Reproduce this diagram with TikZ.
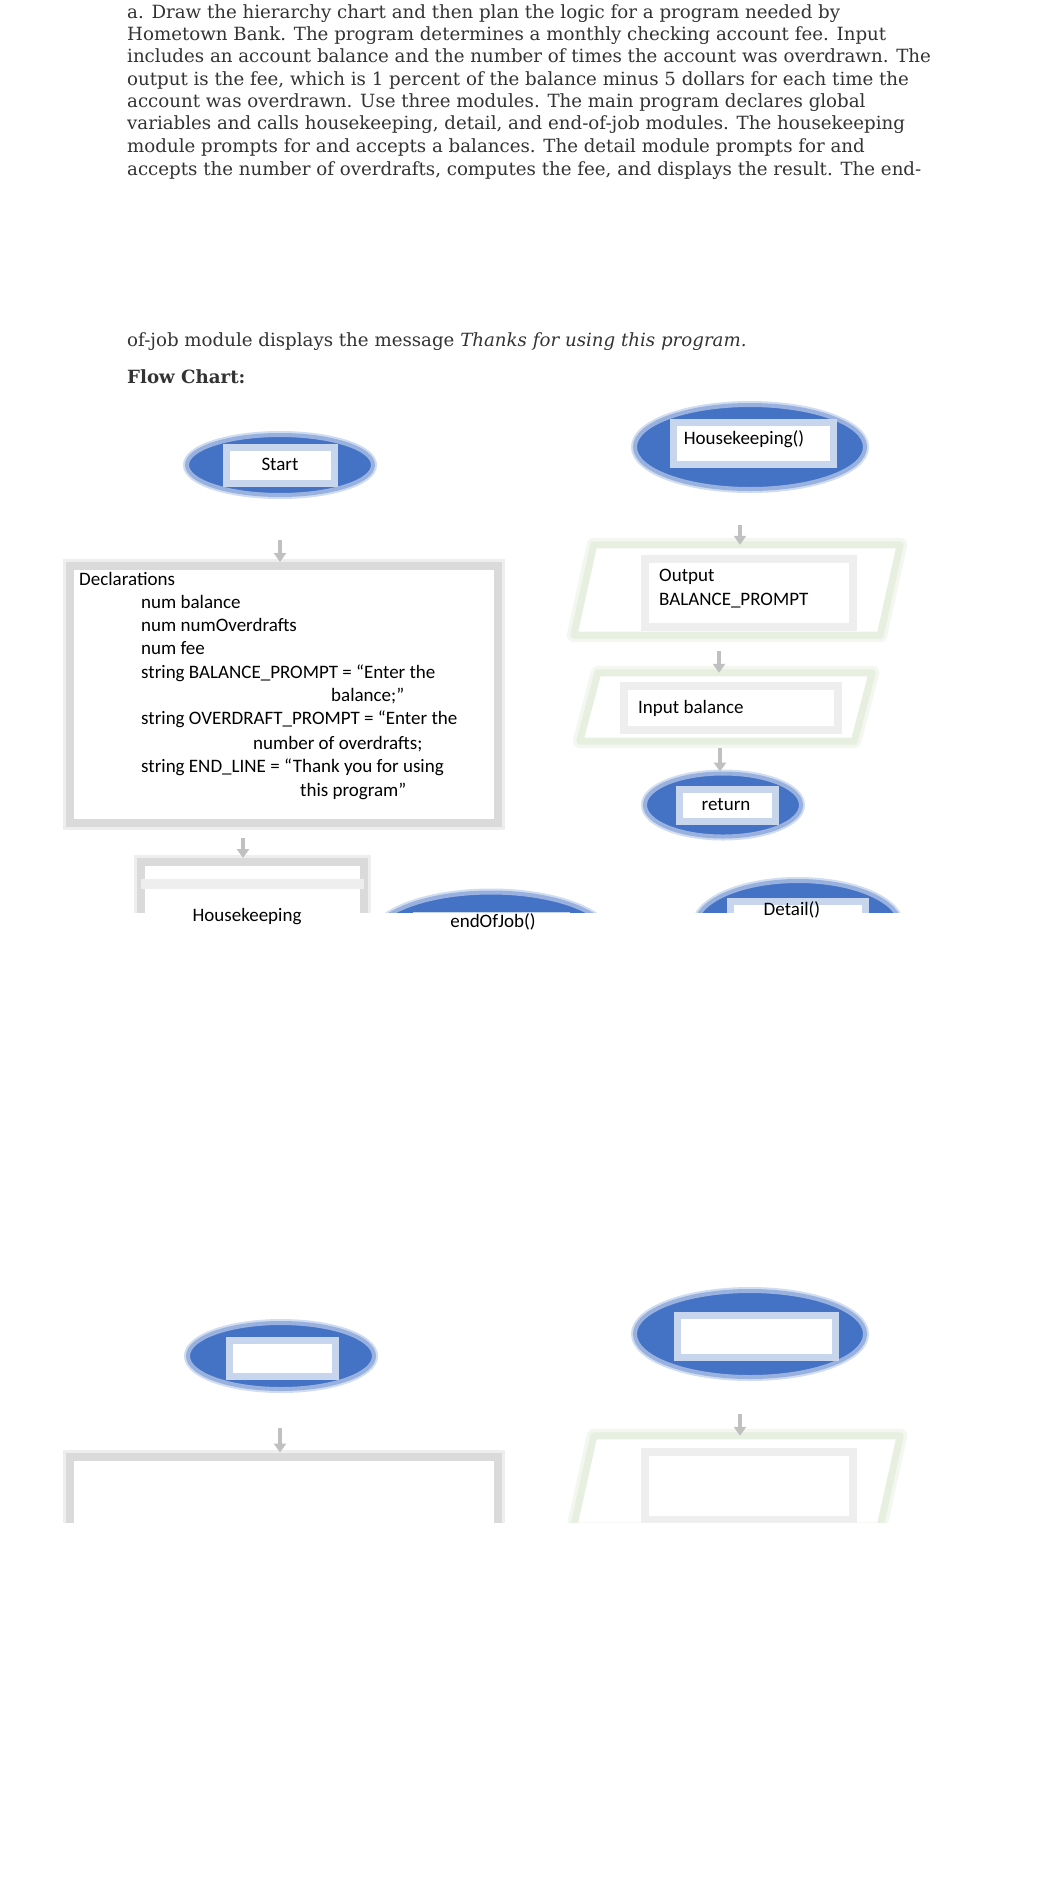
\documentclass[tikz,border=0pt]{standalone}
\usepackage{fontspec}
\setmainfont{DejaVu Serif}
\newfontfamily\chartfont{Carlito}
\usetikzlibrary{shapes.geometric,arrows.meta}
\definecolor{ofblue}{RGB}{68,114,196}
\definecolor{txtgray}{RGB}{51,51,51}
\definecolor{boxgray}{RGB}{218,218,218}
\definecolor{boxblur}{RGB}{238,238,238}
\definecolor{paragreen}{RGB}{230,239,224}
\definecolor{parablur}{RGB}{243,247,240}
\definecolor{innergray}{RGB}{238,238,238}
\definecolor{arrowgray}{RGB}{192,192,192}
\tikzset{
  para/.style={anchor=base west, inner sep=0pt, font=\fontsize{18.2}{22}\selectfont, text=txtgray},
  termblur/.style={ellipse, draw=ofblue!25, line width=8pt, inner sep=0pt},
  term/.style={ellipse, fill=ofblue, draw=ofblue!55, line width=4pt, inner sep=0pt},
  terminner/.style={rectangle, fill=white, draw=ofblue!30, line width=7pt, inner sep=0pt},
  procblur/.style={rectangle, draw=boxblur, line width=14pt, inner sep=0pt},
  procbox/.style={rectangle, draw=boxgray, line width=8pt, fill=white, inner sep=0pt},
  iobox/.style={rectangle, inner sep=0pt},
  ioblur/.style={draw=parablur, line width=14pt, line join=round},
  ioline/.style={draw=paragreen, line width=7pt, fill=white, line join=round},
  iorect/.style={rectangle, draw=innergray, line width=8pt, inner sep=0pt},
  flowarrow/.style={draw=arrowgray, line width=3.5pt, -{Triangle[width=12pt,length=9pt]}},
  lbl/.style={font=\chartfont\fontsize{19}{23}\selectfont, inner sep=0pt, text=black},
  lblw/.style={lbl, anchor=base west},
}
\newcommand{\parapath}[2]{%
  \path[ioblur] (#1.south west) -- ([xshift=#2]#1.north west) -- (#1.north east) -- ([xshift=-#2]#1.south east) -- cycle;
  \path[ioline] (#1.south west) -- ([xshift=#2]#1.north west) -- (#1.north east) -- ([xshift=-#2]#1.south east) -- cycle;}
\begin{document}
\begin{tikzpicture}[x=1pt,y=-1pt]
\useasboundingbox[fill=white] (0,0) rectangle (1062,1880);

% ---- paragraph ----
\node[para] (p1) at (127,18) {a. Draw the hierarchy chart and then plan the logic for a program needed by};
\node[para] (p2) at (127,40) {Hometown Bank. The program determines a monthly checking account fee. Input};
\node[para] (p3) at (127,62) {includes an account balance and the number of times the account was overdrawn. The};
\node[para] (p4) at (127,85) {output is the fee, which is 1 percent of the balance minus 5 dollars for each time the};
\node[para] (p5) at (127,107) {account was overdrawn. Use three modules. The main program declares global};
\node[para] (p6) at (127,129) {variables and calls housekeeping, detail, and end-of-job modules. The housekeeping};
\node[para] (p7) at (127,152) {module prompts for and accepts a balances. The detail module prompts for and};
\node[para] (p8) at (127,175) {accepts the number of overdrafts, computes the fee, and displays the result. The end-};
\node[para] (p9) at (127,346) {of-job module displays the message \textit{Thanks for using this program.}};
\node[para, font=\fontsize{18.2}{22}\selectfont\bfseries] (fc) at (127,383) {Flow Chart:};

% ---- upper flow chart (clipped) ----
\begin{scope}
\clip (0,392) rectangle (1062,912);
% Start
\node[termblur, minimum width=186pt, minimum height=60pt] (startb) at (280,465) {};
\node[term, minimum width=186pt, minimum height=60pt] (start) at (280,465) {};
\node[terminner, minimum width=108pt, minimum height=36pt] (starti) at (280,465) {};
% Declarations
\node[procblur, minimum width=428pt, minimum height=257pt] (declb) at (283.5,694.5) {};
\node[procbox, minimum width=428pt, minimum height=257pt] (decl) at (283.5,694.5) {};
% Housekeeping call box
\node[procblur, minimum width=223pt, minimum height=100pt] (hkb) at (252.5,912) {};
\node[procbox, minimum width=223pt, minimum height=100pt] (hk) at (252.5,912) {};
\draw[boxblur, line width=10pt] ([yshift=-26pt,xshift=4pt]hk.north west) -- ([yshift=-26pt,xshift=-4pt]hk.north east);
% endOfJob ellipse
\node[termblur, minimum width=240pt, minimum height=95pt] (eojb) at (491,940) {};
\node[term, minimum width=240pt, minimum height=95pt] (eoj) at (491,940) {};
\node[terminner, minimum width=150pt, minimum height=40pt] (eoji) at (491,935) {};
% Detail ellipse
\node[termblur, minimum width=205pt, minimum height=90pt] (detb) at (798,926) {};
\node[term, minimum width=205pt, minimum height=90pt] (det) at (798,926) {};
\node[terminner, minimum width=135pt, minimum height=40pt] (deti) at (798,921) {};
% Housekeeping() ellipse
\node[termblur, minimum width=230pt, minimum height=84pt] (hkmb) at (750,447) {};
\node[term, minimum width=230pt, minimum height=84pt] (hkm) at (750,447) {};
\node[terminner, minimum width=160pt, minimum height=42pt] (hkmi) at (753,443) {};
% Output parallelogram
\node[iobox, minimum width=326pt, minimum height=90pt] (out) at (737,590) {};
\parapath{out}{20pt}
\node[iorect, minimum width=208pt, minimum height=68pt] (outi) at (749,593) {};
% Input parallelogram
\node[iobox, minimum width=292pt, minimum height=68pt] (inp) at (726,707) {};
\parapath{inp}{18pt}
\node[iorect, minimum width=214pt, minimum height=44pt] (inpi) at (731,708) {};
% return ellipse
\node[termblur, minimum width=156pt, minimum height=63pt] (retb) at (723,805) {};
\node[term, minimum width=156pt, minimum height=63pt] (ret) at (723,805) {};
\node[terminner, minimum width=96pt, minimum height=32pt] (reti) at (727,805) {};
% arrows
\coordinate (a1) at (280,540);
\draw[flowarrow] (a1) -- (a1 |- decl.north);
\coordinate (a2) at (243,838);
\draw[flowarrow] (a2) -- (a2 |- hk.north);
\coordinate (a3) at (740,525);
\draw[flowarrow] (a3) -- (a3 |- out.north);
\coordinate (a4) at (719,651);
\draw[flowarrow] (a4) -- (a4 |- inp.north);
\coordinate (a5) at (720,748);
\draw[flowarrow] (a5) -- (a5 |- ret.north);
\end{scope}

% texts of upper chart
\node[lbl] (tstart) at (280,464) {Start};
\node[lblw] (d1) at (79,585) {Declarations};
\node[lblw] (d2) at (141,608) {num balance};
\node[lblw] (d3) at (141,631) {num numOverdrafts};
\node[lblw] (d4) at (141,654) {num fee};
\node[lblw] (d5) at (141,678) {string BALANCE\_PROMPT = “Enter the};
\node[lblw] (d6) at (331,701) {balance;”};
\node[lblw] (d7) at (141,724) {string OVERDRAFT\_PROMPT = “Enter the};
\node[lblw] (d8) at (253,749) {number of overdrafts;};
\node[lblw] (d9) at (141,772) {string END\_LINE = “Thank you for using};
\node[lblw] (d10) at (300,796) {this program”};
\node[lbl] (thkm) at (744,439) {Housekeeping()};
\node[lblw] (tout1) at (659,581) {Output};
\node[lblw] (tout2) at (659,605) {BALANCE\_PROMPT};
\node[lblw] (tinp) at (638,713) {Input balance};
\node[lbl] (tret) at (726,805) {return};
\node[lbl] (thk) at (247,917) {Housekeeping};
\node[lbl] (teoj) at (493,922) {endOfJob()};
\node[lbl] (tdet) at (792,910) {Detail()};

% ---- lower flow chart (clipped) ----
\begin{scope}
\clip (0,1250) rectangle (1062,1522);
\node[termblur, minimum width=186pt, minimum height=66pt] (lstb) at (281,1356) {};
\node[term, minimum width=186pt, minimum height=66pt] (lst) at (281,1356) {};
\node[terminner, minimum width=106pt, minimum height=36pt] (lsti) at (282,1358) {};
\node[termblur, minimum width=230pt, minimum height=86pt] (lhkb) at (750,1334) {};
\node[term, minimum width=230pt, minimum height=86pt] (lhk) at (750,1334) {};
\node[terminner, minimum width=158pt, minimum height=42pt] (lhki) at (756,1336) {};
\node[procblur, minimum width=428pt, minimum height=257pt] (ldeclb) at (283.5,1585) {};
\node[procbox, minimum width=428pt, minimum height=257pt] (ldecl) at (283.5,1585) {};
\node[iobox, minimum width=326pt, minimum height=90pt] (lout) at (737,1481) {};
\parapath{lout}{20pt}
\node[iorect, minimum width=208pt, minimum height=68pt] (louti) at (749,1486) {};
\coordinate (b1) at (280,1428);
\draw[flowarrow] (b1) -- (b1 |- ldecl.north);
\coordinate (b2) at (740,1414);
\draw[flowarrow] (b2) -- (b2 |- lout.north);
\end{scope}
\end{tikzpicture}
\end{document}
